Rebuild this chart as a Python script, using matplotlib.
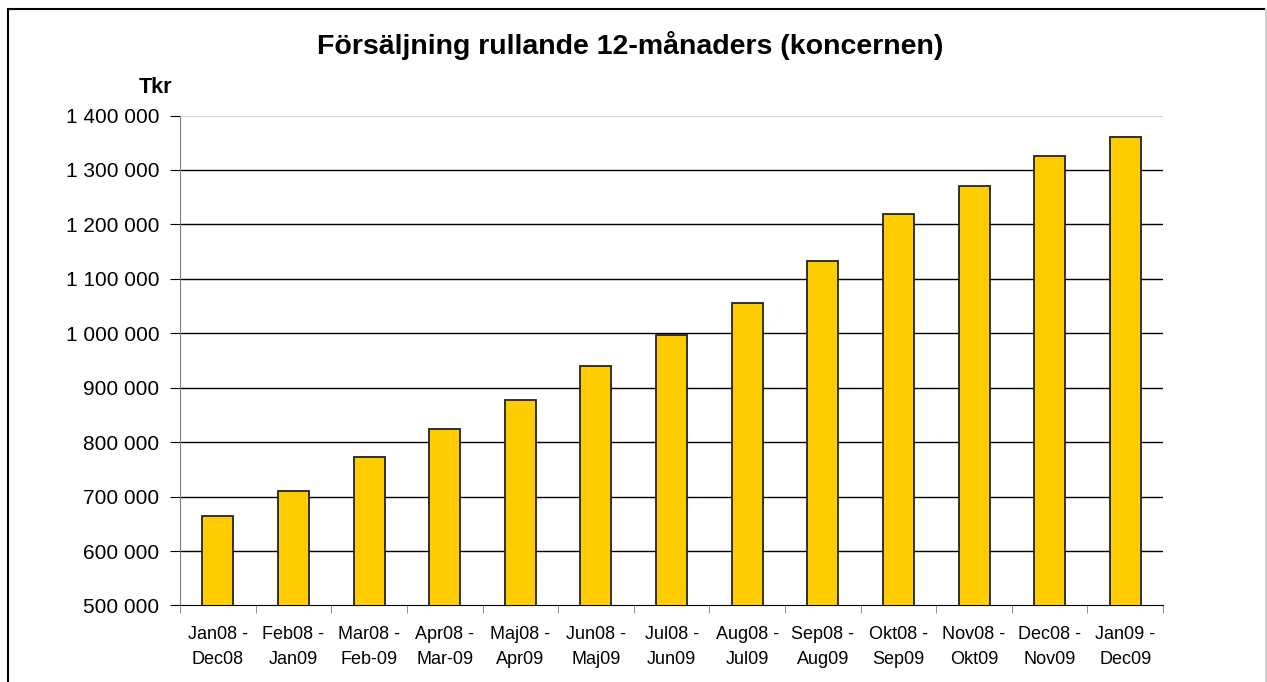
import matplotlib
matplotlib.use("Agg")
import matplotlib.pyplot as plt
from matplotlib.lines import Line2D
from matplotlib.ticker import FuncFormatter, MultipleLocator
import numpy as np

plt.rcParams["font.family"] = ["Liberation Sans", "DejaVu Sans"]

# Försäljning rullande 12 månader (Tkr)
perioder = [
    "Jan08 -\nDec08", "Feb08 -\nJan09", "Mar08 -\nFeb-09", "Apr08 -\nMar-09",
    "Maj08 -\nApr09", "Jun08 -\nMaj09", "Jul08 -\nJun09", "Aug08 -\nJul09",
    "Sep08 -\nAug09", "Okt08 -\nSep09", "Nov08 -\nOkt09", "Dec08 -\nNov09",
    "Jan09 -\nDec09",
]
forsaljning = [
    665000, 710000, 772000, 825000, 878000, 939000, 996000,
    1055000, 1132000, 1220000, 1271000, 1325000, 1360000,
]

fig = plt.figure(figsize=(12.67, 6.82), dpi=100)
fig.patch.set_facecolor("white")
ax = fig.add_axes([0.1421, 0.1122, 0.918 - 0.1421, 0.8306 - 0.1122])

x = np.arange(len(perioder))
ax.bar(x, forsaljning, width=0.41, color="#FFCC00", edgecolor="#222222",
       linewidth=1.3, zorder=3)

ax.set_ylim(500000, 1400000)
ax.set_xlim(-0.5, len(perioder) - 0.5)
ax.yaxis.set_major_locator(MultipleLocator(100000))
ax.yaxis.set_major_formatter(FuncFormatter(lambda v, p: f"{int(v):,}".replace(",", " ")))

# stödlinjer
for v in range(600000, 1400000, 100000):
    ax.axhline(v, color="black", linewidth=1.0, zorder=1)
ax.axhline(1400000, color="#d9d9d9", linewidth=1.0, zorder=1)

for side in ["top", "right"]:
    ax.spines[side].set_visible(False)
ax.spines["left"].set_color("#808080")
ax.spines["bottom"].set_color("black")

ax.set_xticks(x)
ax.set_xticklabels(perioder, fontsize=13, linespacing=1.6)
ax.set_xticks(np.arange(-0.5, len(perioder), 1.0), minor=True)
ax.tick_params(axis="x", which="major", length=0, pad=15)
ax.tick_params(axis="x", which="minor", length=6, color="#808080", direction="out")
ax.tick_params(axis="y", labelsize=15, length=7, color="black", pad=8)

fig.text(0.4975, 0.934, "Försäljning rullande 12-månaders (koncernen)",
         ha="center", va="center", fontsize=20.5, fontweight="bold")
fig.text(0.1225, 0.872, "Tkr", ha="center", va="center", fontsize=15.5, fontweight="bold")

# ram runt diagrammet
fig.add_artist(Line2D([8 / 1267, 1266 / 1267], [1 - 9 / 682, 1 - 9 / 682],
                      color="black", linewidth=1.5))
fig.add_artist(Line2D([8 / 1267, 8 / 1267], [0, 1 - 9 / 682],
                      color="black", linewidth=1.5))
fig.add_artist(Line2D([1265.5 / 1267, 1265.5 / 1267], [0, 1 - 9 / 682],
                      color="#d0d0d0", linewidth=1.5))

fig.savefig("out.png", dpi=100, facecolor="white")
plt.close(fig)
